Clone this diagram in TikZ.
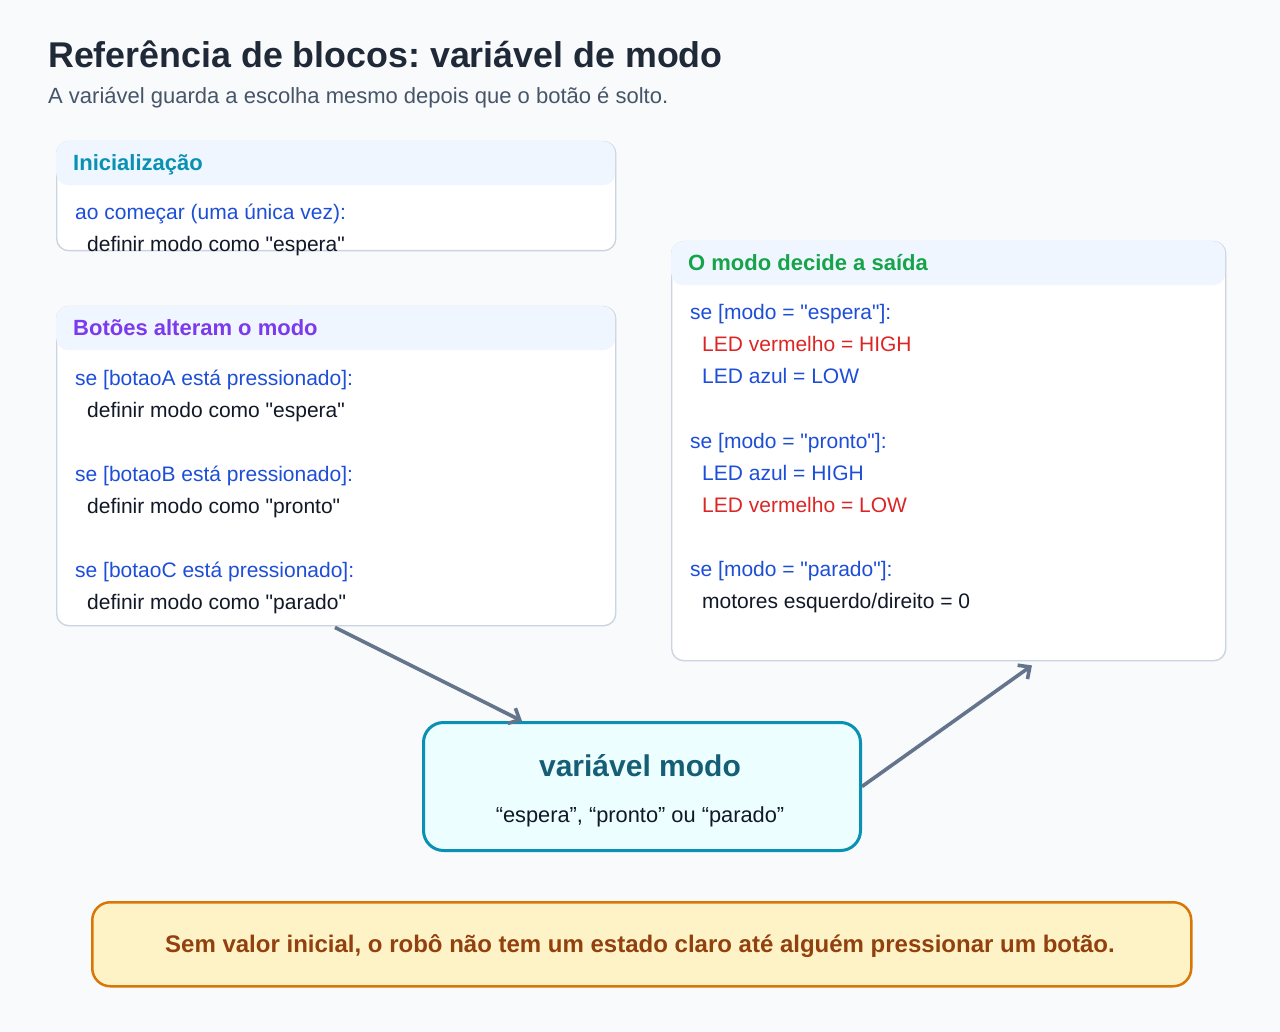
\documentclass[tikz,border=0pt]{standalone}
\usepackage{fontspec}
\setmainfont{Liberation Sans}[Ligatures=TeXOff]
\usetikzlibrary{arrows.meta,calc}
\frenchspacing
\definecolor{bgc}{HTML}{F8FAFC}
\definecolor{titlec}{HTML}{1F2937}
\definecolor{subc}{HTML}{475569}
\definecolor{headfill}{HTML}{EFF6FF}
\definecolor{borderc}{HTML}{CBD5E1}
\definecolor{bluec}{HTML}{1D4ED8}
\definecolor{redc}{HTML}{DC2626}
\definecolor{blackc}{HTML}{111827}
\definecolor{tealc}{HTML}{0891B2}
\definecolor{purplec}{HTML}{7C3AED}
\definecolor{greenc}{HTML}{16A34A}
\definecolor{cfill}{HTML}{ECFEFF}
\definecolor{ctitle}{HTML}{155E75}
\definecolor{nfill}{HTML}{FEF3C7}
\definecolor{nborder}{HTML}{D97706}
\definecolor{ntext}{HTML}{92400E}
\definecolor{arrowc}{HTML}{64748B}
\begin{document}
\frenchspacing
\begin{tikzpicture}[x=1pt,y=-1pt,
  txt/.style={anchor=base west, inner sep=0pt, font=\fontsize{21}{21}\selectfont},
  kw/.style={txt, text=bluec},
  rd/.style={txt, text=redc},
  bk/.style={txt, text=blackc},
  head/.style={anchor=base west, inner sep=0pt, font=\fontsize{22}{22}\selectfont\bfseries},
  panel/.style={draw=borderc, line width=1.4pt, fill=white, rounded corners=12pt, anchor=north west, inner sep=0pt},
  band/.style={fill=headfill, rounded corners=12pt, anchor=north west, inner sep=0pt, minimum height=44pt},
  conn/.style={draw=arrowc, line width=3.6pt, -{Straight Barb[length=9pt,width=17pt]}}
]
\useasboundingbox (0,0) rectangle (1280,1032);
\fill[bgc] (0,0) rectangle (1280,1032);

% title
\node[anchor=base west, inner sep=0pt, text=titlec, font=\fontsize{35.8}{36}\selectfont\bfseries] (title) at (48,67.5) {Referência de blocos: variável de modo};
\node[anchor=base west, inner sep=0pt, text=subc, font=\fontsize{22}{22}\selectfont] (subtitle) at (48,104) {A variável guarda a escolha mesmo depois que o botão é solto.};

% panel 1
\node[panel, minimum width=559pt, minimum height=109pt] (p1) at (56,141) {};
\node[band, minimum width=559pt] (p1h) at (56,141) {};
\node[head, text=tealc] (p1t) at (73,171) {Inicialização};
\node[kw] (p1a) at (75,220) {ao começar (uma única vez):};
\node[bk] (p1b) at (87,252) {definir modo como "espera"};

% panel 2
\node[panel, minimum width=559pt, minimum height=319pt] (p2) at (56,306) {};
\node[band, minimum width=559pt] (p2h) at (56,306) {};
\node[head, text=purplec] (p2t) at (73,336) {Botões alteram o modo};
\node[kw] (p2a) at (75,385) {se [botaoA está pressionado]:};
\node[bk] (p2b) at (87,417) {definir modo como "espera"};
\node[kw] (p2c) at (75,481) {se [botaoB está pressionado]:};
\node[bk] (p2d) at (87,513) {definir modo como "pronto"};
\node[kw] (p2e) at (75,577) {se [botaoC está pressionado]:};
\node[bk] (p2f) at (87,609) {definir modo como "parado"};

% panel 3
\node[panel, minimum width=554pt, minimum height=419pt] (p3) at (671,241) {};
\node[band, minimum width=554pt] (p3h) at (671,241) {};
\node[head, text=greenc] (p3t) at (688,271) {O modo decide a saída};
\node[kw] (p3a) at (690,320) {se [modo = "espera"]:};
\node[rd] (p3b) at (702,352) {LED vermelho = HIGH};
\node[kw] (p3c) at (702,384) {LED azul = LOW};
\node[kw] (p3d) at (690,448) {se [modo = "pronto"]:};
\node[kw] (p3e) at (702,480) {LED azul = HIGH};
\node[rd] (p3f) at (702,512) {LED vermelho = LOW};
\node[kw] (p3g) at (690,576) {se [modo = "parado"]:};
\node[bk] (p3h2) at (702,608) {motores esquerdo/direito = 0};

% center variable box
\node[draw=tealc, fill=cfill, line width=3pt, rounded corners=20pt, minimum width=437pt, minimum height=128pt, anchor=north west, inner sep=0pt] (cv) at (422,721) {};
\node[anchor=base, inner sep=0pt, text=ctitle, font=\fontsize{30}{30}\selectfont\bfseries] (cvt) at (640,776) {variável modo};
\node[anchor=base, inner sep=0pt, text=blackc, font=\fontsize{21.8}{22}\selectfont] (cvs) at (640,822) {“espera”, “pronto” ou “parado”};

% note
\node[draw=nborder, fill=nfill, line width=2.5pt, rounded corners=18pt, minimum width=1099pt, minimum height=84pt, anchor=north west, inner sep=0pt] (note) at (91,901) {};
\node[anchor=base, inner sep=0pt, text=ntext, font=\fontsize{24}{24}\selectfont\bfseries] (notet) at (640,952) {Sem valor inicial, o robô não tem um estado claro até alguém pressionar um botão.};

% connectors
\draw[conn] ($(p2.south west)+(279,1)$) -- ($(cv.north west)+(100,0)$);
\draw[conn] (cv.east) -- ($(p3.south west)+(361,4)$);
\end{tikzpicture}
\end{document}
